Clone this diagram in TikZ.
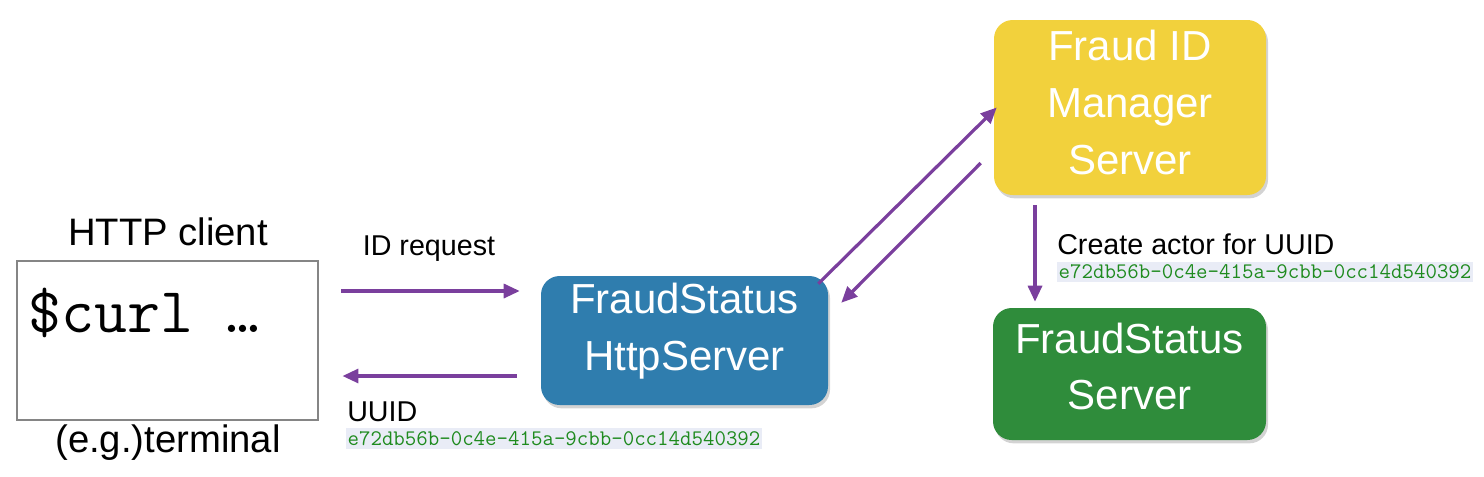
\documentclass[tikz,border=0pt]{standalone}
\usepackage{fontspec}
\setmainfont{Liberation Sans}
\usetikzlibrary{arrows.meta,calc,shadows}
\definecolor{fyellow}{HTML}{F2D13C}
\definecolor{fblue}{HTML}{2F7DAE}
\definecolor{fgreen}{HTML}{2F8C3B}
\definecolor{fpurple}{HTML}{7A3F9D}
\definecolor{uuidgreen}{HTML}{1F8B1F}
\definecolor{uuidbg}{HTML}{E9ECF6}
\definecolor{termgray}{HTML}{858585}
\tikzset{
  arr/.style={draw=fpurple, line width=2.4pt, -{Triangle[length=12pt,width=10.5pt]}},
  srvbox/.style={rounded corners=14pt, inner sep=0pt,
    drop shadow={shadow xshift=1.5pt, shadow yshift=-2.5pt, opacity=0.35}},
  srvtext/.style={text=white, align=center, inner sep=0pt,
    font=\fontsize{31.5}{42.75}\selectfont},
  lbl/.style={inner sep=0pt, font=\fontsize{21.5}{25}\selectfont},
  biglbl/.style={inner sep=0pt, font=\fontsize{28.7}{33}\selectfont},
  uuid/.style={fill=uuidbg, text=uuidgreen, inner xsep=1pt, inner ysep=2.5pt,
    font=\ttfamily\fontsize{16.7}{18}\selectfont},
}
\begin{document}
\begin{tikzpicture}[x=0.75pt,y=-0.75pt]
\useasboundingbox (0,0) rectangle (1484,476);

% client
\node[biglbl] (httpc) at (168,232) {HTTP client};
\node[draw=termgray, line width=2.2pt, minimum width=225.75pt, minimum height=119.25pt, inner sep=0pt] (client) at (167.5,340.5) {};
\node[anchor=west, inner sep=0pt, font=\ttfamily\fontsize{48}{50}\selectfont] (curl) at (28,313) {\$curl …};
\node[biglbl] (term) at (168,443) {(e.g.)terminal};

% servers
\node[srvbox, fill=fblue, minimum width=215.25pt, minimum height=96.75pt] (blue) at (684.5,340.5) {};
\node[srvtext] (blueT) at (684.5,331.5) {FraudStatus\\HttpServer};

\node[srvbox, fill=fyellow, minimum width=204pt, minimum height=131.25pt] (yellow) at (1130,107.5) {};
\node[srvtext] (yellowT) at (1130,102.5) {Fraud ID\\Manager\\Server};

\node[srvbox, fill=fgreen, minimum width=204.75pt, minimum height=99pt] (green) at (1129.5,374) {};
\node[srvtext, font=\fontsize{31.5}{42}\selectfont] (greenT) at (1129.5,366) {FraudStatus\\Server};

% labels
\node[lbl] (idreq) at (429,249) {ID request};
\node[lbl, anchor=west] (uuidl) at (347,412) {UUID};
\node[uuid] (uuid1) at (554,438.5) {e72db56b-0c4e-415a-9cbb-0cc14d540392};
\node[lbl, anchor=west] (create) at (1057,244) {Create actor for UUID};
\node[uuid] (uuid2) at (1265,272) {e72db56b-0c4e-415a-9cbb-0cc14d540392};

% connector end points
\coordinate (a1s) at ($(client.east)+(22,-49.5)$);
\coordinate (a1e) at ($(blue.west)+(-21,-49.5)$);
\coordinate (a2s) at ($(blue.west)+(-24,35.5)$);
\coordinate (a2e) at ($(client.east)+(23,35.5)$);
\coordinate (a3s) at ($(blue.north east)+(-10,8)$);
\coordinate (a3e) at ($(yellow.west)+(3,0)$);
\coordinate (a4s) at ($(yellow.west)+(-13,55.5)$);
\coordinate (a4e) at ($(blue.north east)+(13,27)$);
\coordinate (a5s) at ($(yellow.south)+(-95,10)$);
\coordinate (a5e) at ($(green.north)+(-94.5,-6)$);

\draw[arr] (a1s) -- (a1e);
\draw[arr] (a2s) -- (a2e);
\draw[arr] (a3s) -- (a3e);
\draw[arr] (a4s) -- (a4e);
\draw[arr] (a5s) -- (a5e);
\end{tikzpicture}
\end{document}
